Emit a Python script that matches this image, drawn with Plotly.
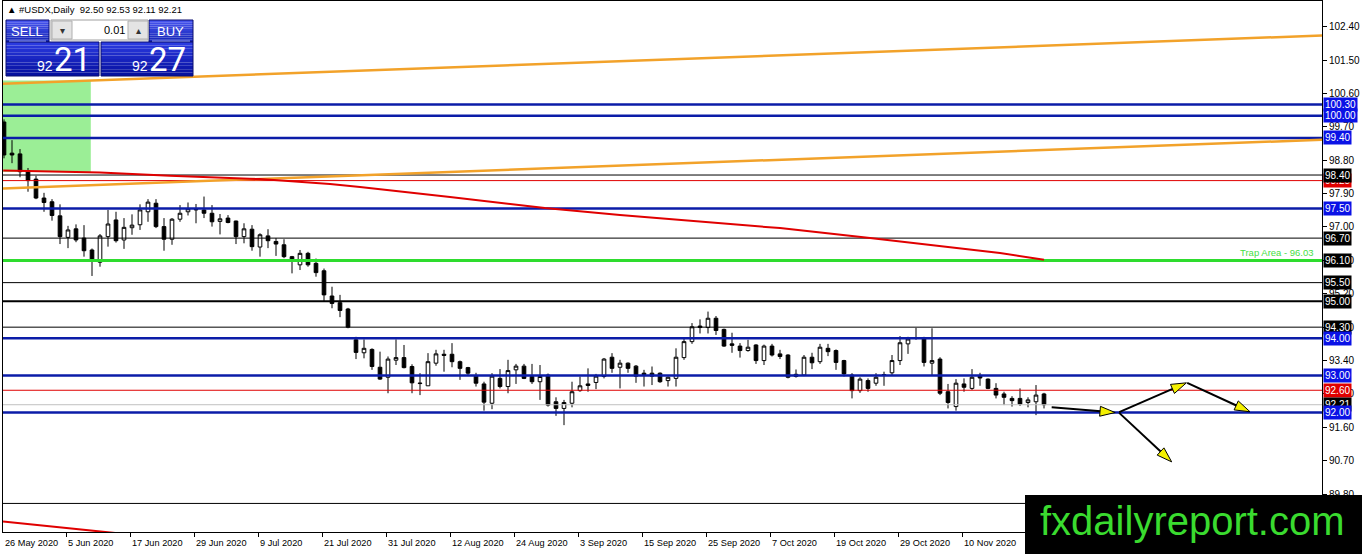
import plotly.graph_objects as go
import pandas as pd

# ------------------------------------------------------------------ data
start_date = "2020-05-26"
opens = [99.83, 98.99, 98.97, 98.52, 98.29, 97.78, 97.68, 97.30, 96.72, 96.95,
         96.70, 96.38, 96.05, 96.74, 97.19, 96.65, 96.98, 97.06, 97.41, 97.64,
         97.01, 96.67, 97.21, 97.41, 97.46, 97.46, 97.37, 97.15, 97.24, 97.16,
         96.74, 96.94, 96.46, 96.76, 96.61, 96.52, 96.20, 95.98, 96.29, 96.02,
         95.82, 95.14, 94.96, 94.79, 93.96, 93.61, 93.70, 93.22, 92.95, 93.41,
         93.48, 93.24, 92.78, 92.72, 93.33, 93.57, 93.57, 93.37, 93.21, 92.98,
         92.77, 92.25, 92.92, 92.70, 93.15, 93.25, 92.97, 92.83, 93.01, 92.29,
         92.11, 92.25, 92.59, 92.77, 92.81, 92.97, 93.49, 93.22, 93.33, 93.25,
         93.06, 93.06, 93.06, 92.86, 92.92, 93.48, 93.91, 94.33, 94.29, 94.54,
         94.24, 93.85, 93.79, 93.67, 93.82, 93.40, 93.79, 93.58, 93.55, 93.03,
         93.01, 93.49, 93.37, 93.73, 93.67, 93.40, 93.01, 92.59, 92.86, 92.79,
         93.01, 93.07, 93.40, 93.85, 94.00, 93.98, 93.33, 93.44, 92.56, 92.16,
         92.77, 92.65, 93.00, 92.90, 92.65, 92.50, 92.38, 92.38, 92.27, 92.29,
         92.50]
highs = [99.90, 99.34, 99.10, 98.59, 98.38, 97.92, 97.75, 97.61, 97.03, 97.07,
         97.05, 96.42, 96.81, 97.46, 97.41, 97.24, 97.34, 97.61, 97.75, 97.75,
         97.24, 97.24, 97.59, 97.66, 97.62, 97.82, 97.59, 97.35, 97.32, 97.17,
         97.10, 97.05, 96.83, 96.94, 96.70, 96.67, 96.22, 96.38, 96.33, 96.15,
         95.88, 95.39, 95.17, 94.82, 94.04, 93.97, 93.73, 93.64, 93.51, 93.97,
         93.82, 93.30, 93.06, 93.60, 93.69, 93.69, 93.87, 93.40, 93.23, 93.07,
         92.83, 93.06, 93.17, 93.42, 93.31, 93.31, 93.31, 93.28, 93.05, 92.41,
         92.34, 92.83, 92.97, 93.19, 93.04, 93.47, 93.60, 93.42, 93.35, 93.28,
         93.15, 93.24, 93.08, 92.97, 93.73, 94.00, 94.41, 94.51, 94.72, 94.60,
         94.26, 94.15, 93.87, 93.96, 93.84, 93.83, 93.85, 93.69, 93.57, 93.16,
         93.55, 93.61, 93.85, 93.85, 93.70, 93.42, 93.06, 92.95, 92.92, 93.06,
         93.10, 93.55, 94.06, 94.04, 94.28, 94.04, 94.27, 93.49, 92.77, 92.90,
         92.92, 93.17, 93.07, 92.92, 92.79, 92.56, 92.44, 92.65, 92.41, 92.74,
         92.53]
lows = [98.85, 98.72, 98.34, 97.95, 97.75, 97.41, 97.17, 96.54, 96.43, 96.59,
        96.20, 95.68, 95.93, 96.47, 96.58, 96.41, 96.79, 96.92, 97.14, 96.97,
        96.36, 96.52, 97.14, 97.31, 97.10, 97.24, 97.01, 96.80, 97.10, 96.54,
        96.56, 96.36, 96.20, 96.43, 96.22, 96.16, 95.75, 95.84, 95.93, 95.66,
        94.99, 94.81, 94.57, 94.27, 93.44, 93.46, 93.15, 92.88, 92.52, 93.28,
        93.19, 92.52, 92.47, 92.72, 93.26, 93.10, 93.22, 92.88, 93.01, 92.70,
        92.05, 92.09, 92.65, 92.52, 92.77, 92.90, 92.77, 92.34, 92.16, 91.91,
        91.66, 92.14, 92.56, 92.56, 92.63, 92.92, 93.07, 92.65, 93.07, 92.80,
        92.70, 92.74, 92.80, 92.70, 92.70, 93.42, 93.85, 94.13, 94.13, 94.09,
        93.77, 93.61, 93.48, 93.64, 93.31, 93.28, 93.51, 93.44, 92.92, 92.94,
        92.98, 93.17, 93.31, 93.52, 93.15, 92.97, 92.38, 92.53, 92.56, 92.72,
        92.72, 93.01, 93.28, 93.58, 93.96, 93.24, 92.99, 92.47, 92.11, 92.05,
        92.56, 92.61, 92.72, 92.63, 92.38, 92.20, 92.16, 92.18, 92.14, 91.93,
        92.11]
closes = [98.94, 98.94, 98.49, 98.25, 97.78, 97.66, 97.31, 96.74, 96.92, 96.65,
          96.36, 96.07, 96.76, 97.08, 96.63, 96.99, 97.05, 97.46, 97.67, 97.01,
          96.67, 97.21, 97.37, 97.49, 97.47, 97.37, 97.14, 97.22, 97.12, 96.74,
          96.95, 96.47, 96.79, 96.63, 96.54, 96.20, 96.07, 96.29, 95.98, 95.77,
          95.17, 94.94, 94.75, 94.30, 93.62, 93.73, 93.24, 92.90, 93.44, 93.48,
          93.21, 92.80, 92.79, 93.37, 93.58, 93.54, 93.37, 93.19, 93.06, 92.79,
          92.28, 92.98, 92.70, 93.13, 93.25, 92.92, 92.83, 92.97, 92.20, 92.11,
          92.27, 92.56, 92.72, 92.73, 92.98, 93.44, 93.19, 93.33, 93.19, 92.98,
          93.02, 92.98, 92.83, 92.95, 93.49, 93.91, 94.31, 94.29, 94.54, 94.21,
          93.79, 93.81, 93.67, 93.76, 93.40, 93.79, 93.55, 93.51, 92.95, 92.97,
          93.49, 93.34, 93.76, 93.64, 93.35, 93.04, 92.59, 92.90, 92.65, 92.95,
          93.02, 93.40, 93.88, 93.98, 94.02, 93.35, 93.40, 92.52, 92.27, 92.79,
          92.68, 92.95, 92.93, 92.65, 92.47, 92.41, 92.32, 92.23, 92.34, 92.47,
          92.21]

date_label_step = 8
date_label_last = 120
price_ticks = [102.40, 101.50, 100.60, 99.70, 98.80, 97.90, 97.00, 96.10,
               95.20, 94.30, 93.40, 92.50, 91.60, 90.70, 89.80]

blue_levels = [100.30, 100.00, 99.40, 97.50, 94.00, 93.00, 92.00]
black_levels = [98.40, 96.70, 95.50, 94.30, 89.55]
black_thick_levels = [95.00]
red_levels = [98.25, 92.60]
green_level = 96.10
bid_price = 92.21
trap_text = "Trap Area - 96.03"

# moving-average line (bar index, price)
ma_idx = [-0.1, 12, 20.75, 32, 40.75, 44.5, 55.75, 67.6, 77, 87, 97, 108.25, 118.25, 124.5, 130]
ma_val = [98.52, 98.47, 98.38, 98.29, 98.16, 98.08, 97.81, 97.51, 97.32, 97.14, 96.97, 96.70, 96.46, 96.30, 96.12]

channel_idx = [-0.125, 164.75]
channel_top = [100.86, 102.16]
channel_bot = [98.04, 99.35]
lower_red_idx = [-0.125, 20.0]
lower_red_val = [89.06, 88.62]

zone_idx = [-1.0, 10.85]
zone_val = [98.48, 100.95]

arrow_tails = [(130.96, 92.14), (139.4, 92.01), (147.9, 92.80), (139.4, 91.99)]
arrow_tips = [(138.9, 92.00), (147.8, 92.80), (155.75, 92.02), (145.96, 90.67)]

header_symbol = "#USDX,Daily"
header_ohlc = [92.50, 92.53, 92.11, 92.21]
sell_price = "92.21"
buy_price = "92.27"
lot_size = "0.01"
watermark = "fxdailyreport.com"

# ------------------------------------------------------------------ styles
W, H = 1362, 554
ML, MR, MT, MB = 3, 40, 1, 22
X_RANGE = [-0.125, 164.75]
Y_RANGE = [88.78, 103.09]
FONT = "Liberation Sans"
BLUE_LINE = "#0B1CA8"
BLUE_BOX = "#0A12E6"
RED = "#E00000"
GREEN = "#2EDC2E"
ORANGE = "#F2A22A"


def px(x):
    return (x - ML) / (W - ML - MR)


def py(y):
    return (H - MB - y) / (H - MT - MB)


def ix(i):
    return (i - X_RANGE[0]) / (X_RANGE[1] - X_RANGE[0])


dates = pd.bdate_range(start_date, periods=len(opens))
idx = list(range(len(opens)))

fig = go.Figure()

fig.add_trace(go.Candlestick(
    x=idx, open=opens, high=highs, low=lows, close=closes,
    increasing=dict(line=dict(color="black", width=1), fillcolor="white"),
    decreasing=dict(line=dict(color="black", width=1), fillcolor="black"),
    whiskerwidth=0, showlegend=False, hoverinfo="skip"))


def hline(level, color, width):
    fig.add_trace(go.Scatter(x=X_RANGE, y=[level, level], mode="lines",
                             line=dict(color=color, width=width),
                             showlegend=False, hoverinfo="skip"))


hline(bid_price, "#C0C0C0", 1)
for lv in red_levels:
    hline(lv, RED, 1)
for lv in black_levels:
    hline(lv, "black", 1)
for lv in black_thick_levels:
    hline(lv, "black", 2)
hline(green_level, GREEN, 3)
for lv in blue_levels:
    hline(lv, BLUE_LINE, 2.5)

for vals in (channel_top, channel_bot):
    fig.add_trace(go.Scatter(x=channel_idx, y=vals, mode="lines",
                             line=dict(color=ORANGE, width=2.5),
                             showlegend=False, hoverinfo="skip"))
fig.add_trace(go.Scatter(x=ma_idx, y=ma_val, mode="lines",
                         line=dict(color=RED, width=2),
                         showlegend=False, hoverinfo="skip"))
fig.add_trace(go.Scatter(x=lower_red_idx, y=lower_red_val, mode="lines",
                         line=dict(color=RED, width=2),
                         showlegend=False, hoverinfo="skip"))

for (tx, ty), (hx, hy) in zip(arrow_tails, arrow_tips):
    fig.add_trace(go.Scatter(
        x=[tx, hx], y=[ty, hy], mode="lines+markers",
        line=dict(color="black", width=2),
        marker=dict(symbol="arrow", size=[0, 16], angleref="previous",
                    color="#F4F000", opacity=[0, 1],
                    line=dict(color="black", width=1)),
        showlegend=False, hoverinfo="skip"))

shapes = []
# green zone (background)
shapes.append(dict(type="rect", xref="x", yref="y", x0=zone_idx[0], x1=zone_idx[1],
                   y0=zone_val[0], y1=zone_val[1], fillcolor="#9BEE96",
                   line=dict(width=0), layer="below"))


def grad_box(x0, y0, x1, y1, top, bottom, n=10):
    t = [int(top[i:i + 2], 16) for i in (1, 3, 5)]
    b = [int(bottom[i:i + 2], 16) for i in (1, 3, 5)]
    for k in range(n):
        f = k / (n - 1)
        c = "#%02x%02x%02x" % tuple(int(t[j] + (b[j] - t[j]) * f) for j in range(3))
        ya = y0 + (y1 - y0) * k / n
        yb = y0 + (y1 - y0) * (k + 1) / n
        shapes.append(dict(type="rect", xref="paper", yref="paper",
                           x0=px(x0), x1=px(x1), y0=py(ya), y1=py(yb),
                           fillcolor=c, line=dict(width=0), layer="above"))
    shapes.append(dict(type="rect", xref="paper", yref="paper",
                       x0=px(x0), x1=px(x1), y0=py(y0), y1=py(y1),
                       fillcolor="rgba(0,0,0,0)", line=dict(color="#0A0F70", width=1),
                       layer="above"))


# trade panel
grad_box(6, 20, 49, 42, "#4654EE", "#1626B8")
grad_box(149, 20, 193, 42, "#4654EE", "#1626B8")
grad_box(6, 42, 99, 76, "#2A3AE0", "#0610A0")
grad_box(101, 42, 193, 76, "#2A3AE0", "#0610A0")
for (a, b) in ((9, 46), (152, 190)):
    shapes.append(dict(type="line", xref="paper", yref="paper", x0=px(a), x1=px(b),
                       y0=py(41), y1=py(41), line=dict(color="#9AA4F4", width=1),
                       layer="above"))
shapes.append(dict(type="rect", xref="paper", yref="paper", x0=px(51), x1=px(148),
                   y0=py(20), y1=py(40), fillcolor="white",
                   line=dict(color="#A0A0A0", width=1), layer="above"))
for (a, b) in ((52, 72), (128, 148)):
    shapes.append(dict(type="rect", xref="paper", yref="paper", x0=px(a), x1=px(b),
                       y0=py(21), y1=py(39), fillcolor="#E4E4E4",
                       line=dict(color="#B0B0B0", width=1), layer="above"))
# watermark box
shapes.append(dict(type="rect", xref="paper", yref="paper", x0=px(1025), x1=px(1362),
                   y0=py(495), y1=py(554), fillcolor="black", line=dict(width=0),
                   layer="above"))

ann = []


def text(x, y, s, size, color="black", xanchor="left", family=FONT):
    ann.append(dict(xref="paper", yref="paper", x=px(x), y=py(y), text=s,
                    showarrow=False, xanchor=xanchor, yanchor="middle",
                    font=dict(family=family, size=size, color=color)))


text(5, 10, "▲ " + header_symbol + "  " + " ".join("%.2f" % v for v in header_ohlc), 9.5)
text(27, 31, "SELL", 13, "white", "center")
text(170, 31, "BUY", 13, "white", "center")
text(62, 30, "▾", 10, "#333333", "center")
text(138, 30, "▴", 10, "#333333", "center")
text(127, 30, lot_size, 11, "black", "right")
for (x_small, x_big, price) in ((35, 52, sell_price), (130, 147, buy_price)):
    big, small = price.split(".")
    text(x_small, 66, big, 14, "white")
    text(x_big, 59, small, 33, "white", family="Roboto")

text(1192, 521, watermark, 40, "#3ADB2F", "center")

# trap area label
ann.append(dict(xref="paper", yref="y", x=1, y=green_level, text=trap_text,
                showarrow=False, xanchor="right", yanchor="bottom", xshift=-6,
                font=dict(family=FONT, size=9.5, color="#44E044")))

# date labels
for i in range(0, date_label_last + 1, date_label_step):
    d = dates[i]
    ann.append(dict(xref="paper", yref="paper", x=max(ix(i - 0.25), 0), y=0, yshift=-11,
                    text="%d %s %d" % (d.day, d.strftime("%b"), d.year),
                    showarrow=False, xanchor="left", yanchor="middle",
                    font=dict(family=FONT, size=9.2, color="black")))

# right-axis level boxes (draw order matters)
level_boxes = [(v, BLUE_BOX) for v in (100.30, 100.00, 99.40)] + \
    [(98.25, RED), (98.40, "black"), (97.50, BLUE_BOX), (96.70, "black"),
     (96.10, "black"), (95.50, "black"), (95.00, "black"), (94.30, "black"),
     (94.00, BLUE_BOX), (93.00, BLUE_BOX), (92.60, RED), (bid_price, "black"),
     (92.00, BLUE_BOX)]
for v, c in level_boxes:
    ann.append(dict(xref="paper", yref="y", x=1, y=v, text="%.2f" % v,
                    showarrow=False, xanchor="left", yanchor="middle", xshift=1,
                    bgcolor=c, borderpad=1,
                    font=dict(family=FONT, size=10, color="white")))

tick_idx = [i - 0.25 for i in range(date_label_step, date_label_last + 1, date_label_step)]

fig.update_layout(
    width=W, height=H, autosize=False,
    margin=dict(l=ML, r=MR, t=MT, b=MB, autoexpand=False),
    plot_bgcolor="white", paper_bgcolor="white",
    shapes=shapes, annotations=ann, showlegend=False, boxgap=0.35,
    xaxis=dict(range=X_RANGE, showgrid=False, zeroline=False, showline=True,
               linecolor="black", linewidth=1, mirror=True, ticks="outside",
               ticklen=4, tickcolor="black", tickvals=tick_idx,
               showticklabels=False, rangeslider=dict(visible=False)),
    yaxis=dict(range=Y_RANGE, side="right", showgrid=False, zeroline=False,
               showline=True, linecolor="black", linewidth=1, mirror=True,
               ticks="outside", ticklen=4, tickcolor="black",
               tickvals=price_ticks, ticktext=["%.2f" % v for v in price_ticks],
               tickfont=dict(family=FONT, size=10, color="black")),
)

fig.write_html("out.html", config={"displayModeBar": False},
               post_script="document.body.style.margin='0';document.body.style.overflow='hidden';")
